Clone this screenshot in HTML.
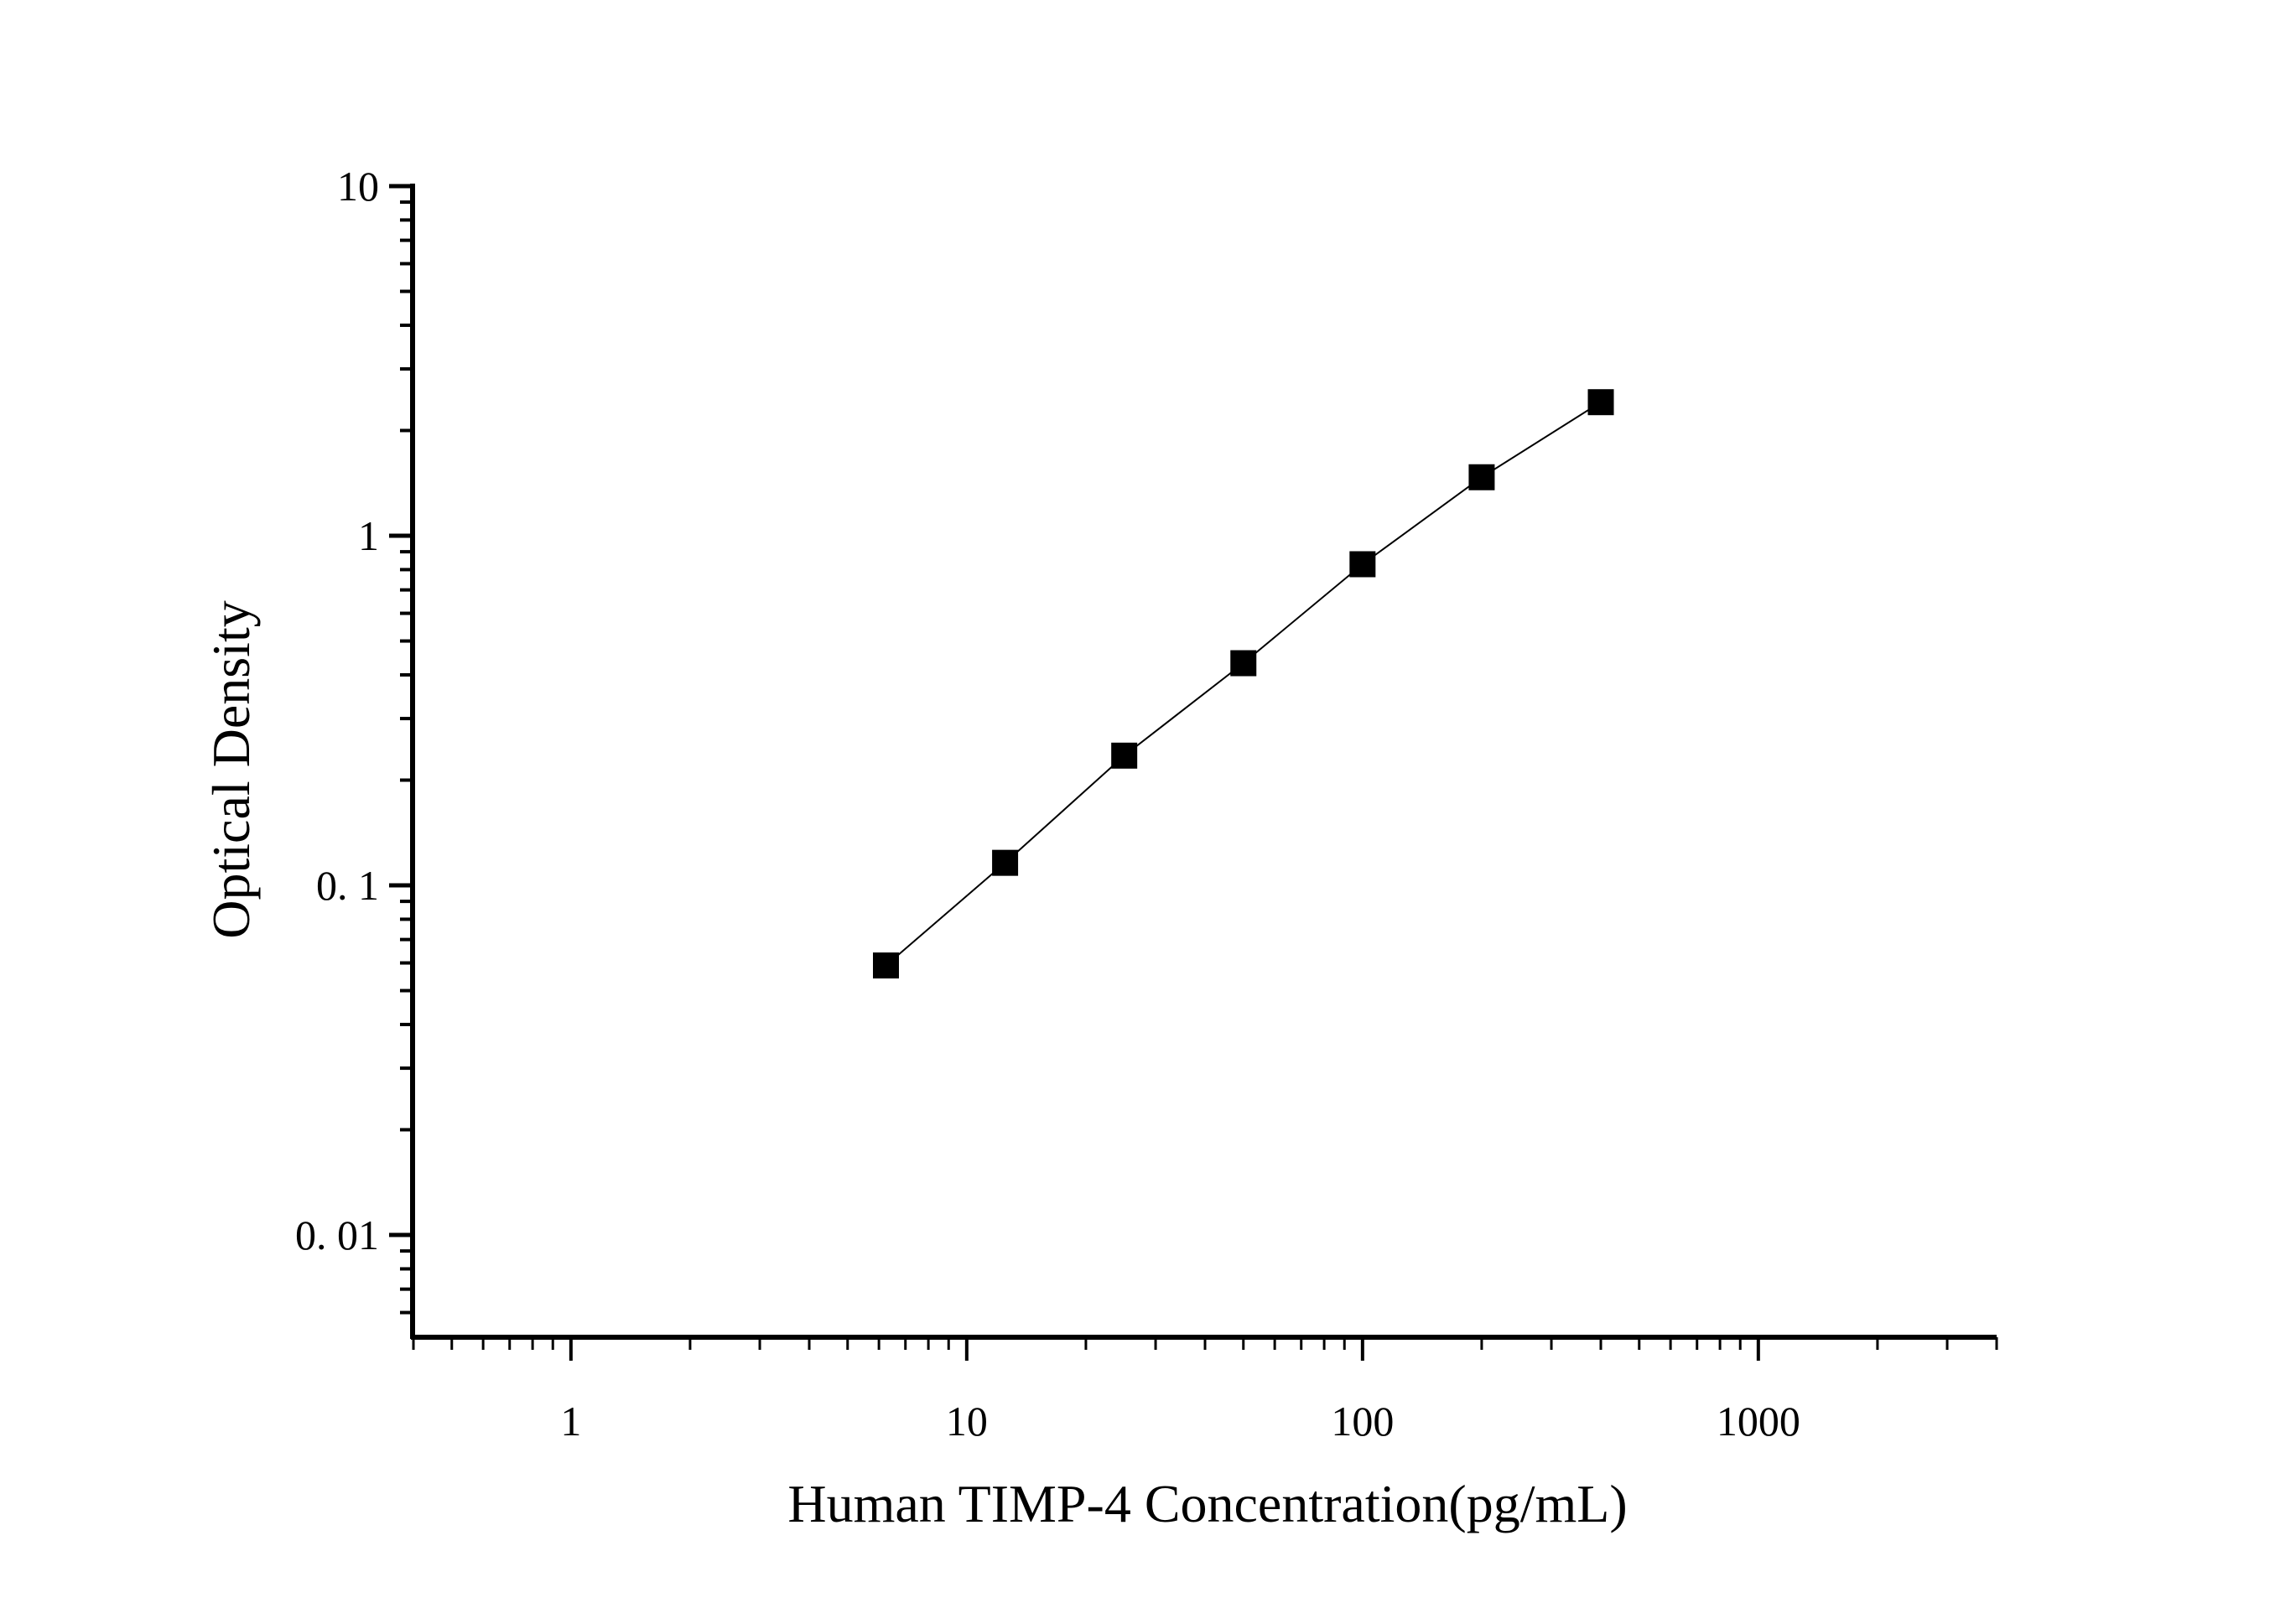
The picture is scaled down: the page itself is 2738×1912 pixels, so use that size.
<!DOCTYPE html>
<html><head><meta charset="utf-8"><style>
html,body{margin:0;padding:0;background:#fff;}
svg{display:block;}
text{font-family:"Liberation Serif","Noto Serif CJK SC",serif;fill:#000;}
</style></head><body>
<svg id="chart" width="2738" height="1912" viewBox="0 0 2738 1912" xmlns="http://www.w3.org/2000/svg">
<rect width="2738" height="1912" fill="#fff"/>
<g id="axes"></g>
<g id="series"></g>
<text x="1440" y="1815" font-size="64" text-anchor="middle">Human TIMP-4 Concentration(pg/mL)</text>
<text transform="translate(297,918) rotate(-90)" font-size="64" text-anchor="middle">Optical Density</text>
</svg>
<script>
const concentrations = [6.25, 12.5, 25, 50, 100, 200, 400];
const opticalDensity = [0.059, 0.116, 0.235, 0.432, 0.829, 1.47, 2.41];
const xTickValues = [1, 10, 100, 1000];
const xTickLabels = ["1", "10", "100", "1000"];
const yTickValues = [0.01, 0.1, 1, 10];
const yTickLabels = ["0. 01", "0. 1", "1", "10"];

const NS = "http://www.w3.org/2000/svg";
const X0 = 492, X1 = 2381, Y0 = 1595, Y1 = 222;
const xMin = Math.log10(0.398), xMax = Math.log10(4000);
const yMin = Math.log10(0.0051), yMax = 1;
function xs(v){ return X0 + (Math.log10(v) - xMin) / (xMax - xMin) * (X1 - X0); }
function ys(v){ return Y0 - (Math.log10(v) - yMin) / (yMax - yMin) * (Y0 - Y1); }
function mk(tag, attrs, parent){ const e = document.createElementNS(NS, tag); for (const k in attrs) e.setAttribute(k, attrs[k]); parent.appendChild(e); return e; }

const axes = document.getElementById('axes');
const xl = mk('line', {x1: X0 - 2, y1: Y0, x2: X1, y2: Y0, stroke: '#000', 'stroke-width': 6}, axes);


const yl = mk('line', {x1: X0, y1: Y0 + 2, x2: X0, y2: Y1 - 3, stroke: '#000', 'stroke-width': 6}, axes);



// x minor+major ticks
for (let d = -1; d <= 3; d++) {
  for (let m = 1; m <= 9; m++) {
    const v = m * Math.pow(10, d);
    if (v < 0.398 || v > 4000) continue;
    const x = xs(v);
    const major = m === 1;
    const t = mk('line', {x1: x, y1: Y0, x2: x, y2: Y0 + (major ? 28 : 15), stroke: '#000', 'stroke-width': major ? 4 : 3}, axes);
    
    
  }
}
// y ticks
for (let d = -3; d <= 0; d++) {
  for (let m = 1; m <= 9; m++) {
    const v = m * Math.pow(10, d);
    if (v < 0.0051 || v > 10) continue;
    const y = ys(v);
    const major = m === 1;
    const t = mk('line', {x1: X0, y1: y, x2: X0 - (major ? 28 : 15), y2: y, stroke: '#000', 'stroke-width': major ? 5 : 4}, axes);
    
    
  }
}
const t10 = mk('line', {x1: X0, y1: ys(10), x2: X0 - 28, y2: ys(10), stroke: '#000', 'stroke-width': 5}, axes);



xTickValues.forEach((v, i) => {
  const t = mk('text', {x: xs(v), y: 1712, 'font-size': 50, 'text-anchor': 'middle'}, axes);
  t.textContent = xTickLabels[i];
  
  
});
yTickValues.forEach((v, i) => {
  const t = mk('text', {x: 452, y: ys(v) + 17, 'font-size': 50, 'text-anchor': 'end'}, axes);
  t.textContent = yTickLabels[i];
  
  
});

const series = document.getElementById('series');
const pts = concentrations.map((c, i) => xs(c) + ',' + ys(opticalDensity[i])).join(' ');
const line = mk('polyline', {points: pts, fill: 'none', stroke: '#000', 'stroke-width': 2}, series);


concentrations.forEach((c, i) => {
  const s = 31;
  const r = mk('rect', {x: xs(c) - s / 2, y: ys(opticalDensity[i]) - s / 2, width: s, height: s, fill: '#000'}, series);
  
  
});
</script>
</body></html>
